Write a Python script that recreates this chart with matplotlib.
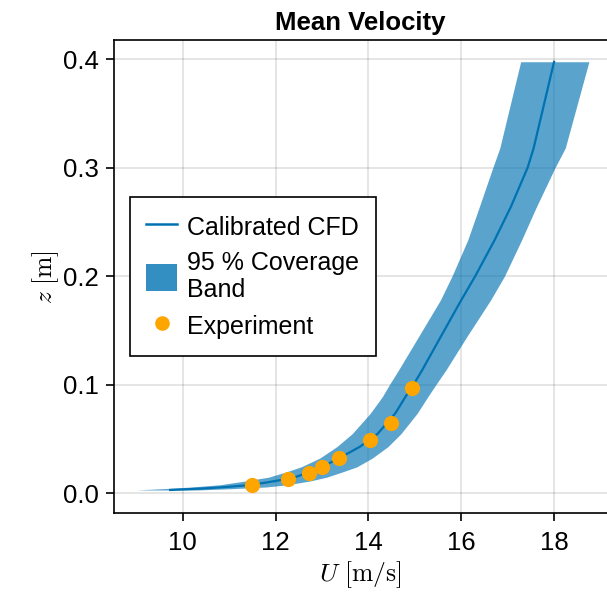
import matplotlib.pyplot as plt
from matplotlib.lines import Line2D
from matplotlib.patches import Patch

plt.rcParams['font.family'] = ['Liberation Sans', 'DejaVu Sans']
plt.rcParams['mathtext.fontset'] = 'cm'

# calibrated CFD profile and 95 % band
z_cfd = [0.0032, 0.0045, 0.006, 0.008, 0.0115, 0.015, 0.020, 0.0245, 0.0325, 0.0431,
         0.055, 0.0738, 0.0891, 0.1, 0.1137, 0.1444, 0.178, 0.2, 0.2334, 0.264,
         0.3, 0.318, 0.3975]
u_mean = [9.73, 10.4, 10.95, 11.5, 12.0, 12.42, 12.75, 13.0, 13.37, 13.82,
          14.2, 14.58, 14.8, 14.97, 15.16, 15.56, 16.0, 16.3, 16.72, 17.07,
          17.43, 17.56, 18.0]
u_low = [9.0, 9.6, 10.2, 10.8, 11.35, 11.85, 12.24, 12.55, 12.95, 13.32,
         13.65, 14.04, 14.3, 14.45, 14.65, 15.08, 15.55, 15.8, 16.14, 16.39,
         16.68, 16.83, 17.28]
u_high = [10.3, 11.1, 11.8, 12.25, 12.74, 13.1, 13.45, 13.75, 14.08, 14.42,
          14.7, 15.05, 15.28, 15.45, 15.67, 16.12, 16.63, 16.93, 17.3, 17.62,
          18.02, 18.24, 18.75]

# experiment
u_exp = [11.50, 12.27, 12.72, 13.0, 13.37, 14.04, 14.48, 14.94]
z_exp = [0.008, 0.0135, 0.0184, 0.0245, 0.0325, 0.049, 0.065, 0.0968]

blue = '#0072B2'

fig = plt.figure(figsize=(6.07, 5.92), dpi=100)
ax = fig.add_axes([0.1878, 0.1334, 0.8122, 0.799])

ax.fill_betweenx(z_cfd, u_low, u_high, color=blue, alpha=0.65, lw=0)
ax.plot(u_mean, z_cfd, color=blue, lw=1.6)
ax.scatter(u_exp, z_exp, s=120, color='orange', zorder=3, lw=0)

ax.set_xlim(8.52, 19.14)
ax.set_ylim(-0.018, 0.4175)
ax.set_xticks([10, 12, 14, 16, 18])
ax.set_yticks([0.0, 0.1, 0.2, 0.3, 0.4])
ax.set_yticklabels(['0.0', '0.1', '0.2', '0.3', '0.4'])
ax.grid(True, color='black', alpha=0.12, lw=1.2)
ax.set_axisbelow(True)
ax.tick_params(labelsize=18.5, length=6, width=1.2, pad=5)
ax.tick_params(axis='x', pad=7)
for s in ['left', 'bottom', 'top']:
    ax.spines[s].set_linewidth(1.2)
ax.spines['right'].set_visible(False)

ax.set_title('Mean Velocity', fontsize=18.5, fontweight='bold', pad=7)
ax.set_xlabel(r'$U\ [\mathrm{m/s}]$', fontsize=18.5, labelpad=3)
ax.set_ylabel(r'$z\ [\mathrm{m}]$', fontsize=18.5, labelpad=1)

handles = [
    Line2D([], [], color=blue, lw=1.8),
    Patch(facecolor='#338ec1', edgecolor='none'),
    Line2D([], [], marker='o', color='orange', ls='none', markersize=9.5),
]
labels = ['Calibrated CFD', '95 % Coverage\nBand', 'Experiment']
leg = ax.legend(handles, labels, loc='upper left', bbox_to_anchor=(0.032, 0.668),
                fontsize=18, frameon=True, fancybox=False, framealpha=1,
                edgecolor='black', handlelength=1.25, handleheight=1.3,
                handletextpad=0.4, labelspacing=0.4, borderpad=0.65,
                borderaxespad=0)
leg.get_frame().set_linewidth(1.2)

fig.savefig('out.png', dpi=100)
